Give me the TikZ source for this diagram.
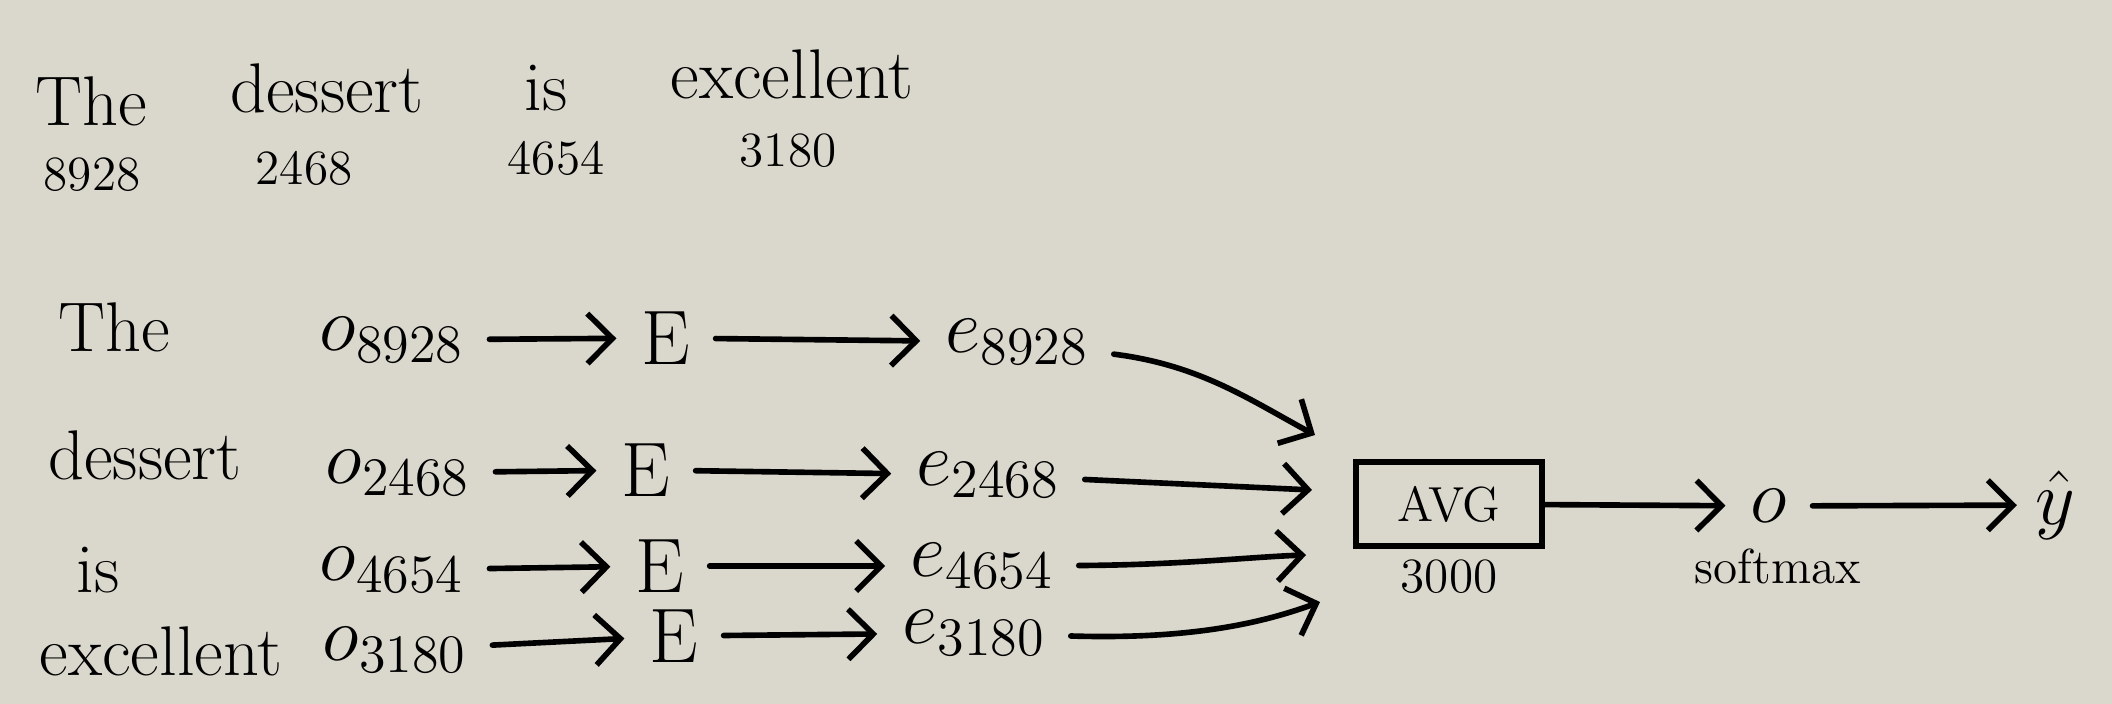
\documentclass[tikz,border=0pt]{standalone}
\usepackage{fix-cm}
\usepackage{fontspec}
\usetikzlibrary{arrows.meta,positioning}
\definecolor{paper}{RGB}{218,216,204}

\begin{document}
\begin{tikzpicture}[x=0.01cm,y=-0.01cm,
wrd/.style={font=\fontsize{20}{22}\selectfont, inner sep=2pt},
num/.style={font=\fontsize{14}{16}\selectfont, inner sep=2pt},
sym/.style={font=\fontsize{22}{24}\selectfont, inner xsep=7pt, inner ysep=1pt},
lnk/.style={-{Straight Barb[length=2.5mm,width=5mm]}, line width=1.6pt, line cap=round},
avgbox/.style={draw, line width=1.6pt, minimum width=1.86cm, minimum height=0.84cm,
              font=\fontsize{14}{16}\selectfont},
]
\fill[paper] (0,0) rectangle (2112,704);
% sentence and token ids
\node[wrd] (tThe) at (91,101) {The};
\node[wrd] (tDes) at (327,88) {dessert};
\node[wrd] (tIs) at (546,88) {is};
\node[wrd] (tExc) at (792,74) {excellent};
\node[num] (nThe) at (92,175) {8928};
\node[num] (nDes) at (304,168) {2468};
\node[num] (nIs) at (556,158) {4654};
\node[num] (nExc) at (788,151) {3180};
% one-hot -> embedding rows
\node[wrd] (w1) at (114,327) {The};
\node[wrd] (w2) at (145,455) {dessert};
\node[wrd] (w3) at (98,570) {is};
\node[wrd] (w4) at (161,651) {excellent};
\node[sym] (o1) at (392,340) {$o_{8928}$};
\node[sym] (o2) at (398,473) {$o_{2468}$};
\node[sym] (o3) at (392,570) {$o_{4654}$};
\node[sym] (o4) at (395,650) {$o_{3180}$};
\node[sym] (E1) at (666,338) {E};
\node[sym] (E2) at (646,470) {E};
\node[sym] (E3) at (660,566) {E};
\node[sym] (E4) at (674,636) {E};
\node[sym] (e1) at (1017,342) {$e_{8928}$};
\node[sym] (e2) at (988,475) {$e_{2468}$};
\node[sym] (e3) at (982,566) {$e_{4654}$};
\node[sym] (e4) at (974,633) {$e_{3180}$};
\foreach \i in {1,...,4}{
  \draw[lnk] (o\i) -- (E\i);
  \draw[lnk] (E\i) -- (e\i);
}
% average, softmax
\node[avgbox] (avg) at (1449,504) {AVG};
\node[num, below=1pt of avg] (dim) {3000};
\node[sym] (out) at (1769,506) {$o$};
\node[num] (smax) at (1778,566) {softmax};
\node[sym, inner xsep=5pt] (yhat) at (2055,505) {$\hat{y}$};
\coordinate (in1) at (1315,435);
\coordinate (in2) at (1312,490);
\coordinate (in3) at (1306,555);
\coordinate (in4) at (1320,602);
\draw[lnk] (e1) .. controls (1200,365) and (1250,400) .. (in1);
\draw[lnk] (e2) -- (in2);
\draw[lnk] (e3) .. controls (1180,565) and (1250,557) .. (in3);
\draw[lnk] (e4) .. controls (1200,640) and (1270,620) .. (in4);
\draw[lnk] (avg) -- (out);
\draw[lnk] (out) -- (yhat);
\end{tikzpicture}
\end{document}
